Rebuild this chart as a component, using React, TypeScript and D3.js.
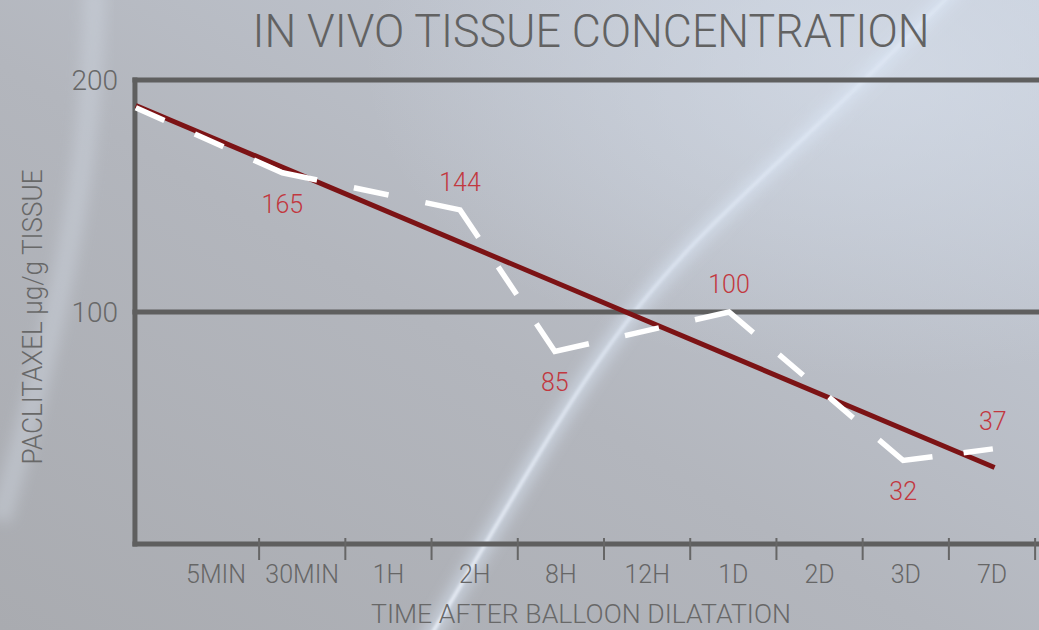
import * as d3 from "d3";

// x axis categories (time after dilatation)
const categories = ["5MIN", "30MIN", "1H", "2H", "8H", "12H", "1D", "2D", "3D", "7D"];
const yTicks = [100, 200];

// measured concentration (dashed white line), positions are in category units
const measuredPos = [-0.93, 0.77, 2.83, 3.93, 5.95, 7.97, 9.01];
const measuredVal = [188, 160, 144, 83, 100, 36, 41];
const pointLabels = ["", "165", "144", "85", "100", "32", "37"];
const labelBelow = [false, true, false, true, false, true, false];

// trend line
const trendPos = [-0.93, 9.03];
const trendVal = [189, 33];

const width = 1039;
const height = 630;
const axisPos = -0.94;

const x = d3.scaleLinear().domain([0, 9]).range([216, 992]);
const y = d3.scaleLinear().domain([0, 200]).range([544, 80]);

const font = "Roboto, 'DejaVu Sans', sans-serif";
const gray = "#626262";
const red = "#c2383f";

// dashes aligned to corners: each segment starts and ends with a dash
function cornerDashes(pts: [number, number][], dash: number, gap: number) {
  const arr: number[] = [];
  for (let k = 0; k < pts.length - 1; k++) {
    const L = Math.hypot(pts[k + 1][0] - pts[k][0], pts[k + 1][1] - pts[k][1]);
    const n = Math.max(0, Math.round((L - dash) / (dash + gap)));
    const s = L / ((n + 1) * dash + n * gap);
    const d = dash * s;
    const g = gap * s;
    if (k === 0) arr.push(d);
    else arr[arr.length - 1] += d;
    for (let j = 0; j < n; j++) arr.push(g, d);
  }
  arr.push(2000);
  return arr.map((v) => v.toFixed(2)).join(" ");
}

export default function App() {
  const pts: [number, number][] = measuredPos.map((p, i) => [x(p), y(measuredVal[i])]);
  const line = d3.line();
  const trend: [number, number][] = trendPos.map((p, i) => [x(p), y(trendVal[i])]);

  // decorative light streaks of the backdrop
  const streak = d3.line().curve(d3.curveBasis);
  const arcPts: [number, number][] = [
    [425, 645], [485, 545], [555, 425], [625, 320], [695, 240], [775, 165], [860, 85], [960, -15],
  ];
  const leftPts: [number, number][] = [
    [95, -10], [90, 120], [70, 250], [35, 400], [0, 520],
  ];

  const left = x(axisPos);

  return (
    <svg
      width={width}
      height={height}
      style={{ position: "absolute", left: 0, top: 0, display: "block" }}
      fontFamily={font}
    >
      <defs>
        <linearGradient id="bg" x1="0" y1="1" x2="1" y2="0">
          <stop offset="0" stopColor="#a9abb0" />
          <stop offset="0.45" stopColor="#b3b6bd" />
          <stop offset="1" stopColor="#c7ceda" />
        </linearGradient>
        <radialGradient id="glow" cx="0.85" cy="0.1" r="0.5">
          <stop offset="0" stopColor="#d6deea" stopOpacity="0.7" />
          <stop offset="1" stopColor="#d6deea" stopOpacity="0" />
        </radialGradient>
        <linearGradient id="arcFade" x1="0" y1="1" x2="0" y2="0">
          <stop offset="0" stopColor="#f2f7ff" stopOpacity="1" />
          <stop offset="0.55" stopColor="#e6eefa" stopOpacity="0.75" />
          <stop offset="1" stopColor="#e6eefa" stopOpacity="0.55" />
        </linearGradient>
        <filter id="blurBig" x="-20%" y="-20%" width="140%" height="140%">
          <feGaussianBlur stdDeviation="7" />
        </filter>
        <filter id="blurSmall" x="-20%" y="-20%" width="140%" height="140%">
          <feGaussianBlur stdDeviation="1.5" />
        </filter>
      </defs>

      {/* background */}
      <rect width={width} height={height} fill="url(#bg)" />
      <rect width={width} height={height} fill="url(#glow)" />
      <path d={streak(leftPts) ?? ""} fill="none" stroke="#cfd6e0" strokeWidth={22} opacity={0.45} filter="url(#blurBig)" />
      <path d={streak(arcPts) ?? ""} fill="none" stroke="#dce8f8" strokeWidth={16} opacity={0.55} filter="url(#blurBig)" />
      <path d={streak(arcPts) ?? ""} fill="none" stroke="url(#arcFade)" strokeWidth={3.5} opacity={0.85} filter="url(#blurSmall)" />

      {/* title */}
      <text x={591} y={47} textAnchor="middle" fontSize={46} fontWeight={300} fill={gray} textLength={677} lengthAdjust="spacingAndGlyphs">
        IN VIVO TISSUE CONCENTRATION
      </text>

      {/* horizontal lines */}
      {[0, ...yTicks].map((v) => (
        <line key={v} x1={left - 2.5} x2={width} y1={y(v)} y2={y(v)} stroke="#5f5f5f" strokeWidth={5} />
      ))}
      <line x1={left} x2={left} y1={y(200) - 2.5} y2={y(0) + 2.5} stroke="#5f5f5f" strokeWidth={5} />

      {/* y tick labels */}
      {yTicks.map((v) => (
        <text key={v} x={118} y={y(v) + 10} textAnchor="end" fontSize={28} fontWeight={300} fill="#686868">
          {v}
        </text>
      ))}

      {/* x ticks */}
      {categories.map((c, i) => (
        <g key={c}>
          <line x1={x(i + 0.5)} x2={x(i + 0.5)} y1={y(0) - 6} y2={y(0) + 16} stroke="#666" strokeWidth={2} />
          <text x={x(i)} y={583} textAnchor="middle" fontSize={25} fontWeight={300} fill="#666">
            {c}
          </text>
        </g>
      ))}

      {/* axis titles */}
      <text x={581} y={623} textAnchor="middle" fontSize={26} fontWeight={300} fill="#686868" textLength={420} lengthAdjust="spacingAndGlyphs">
        TIME AFTER BALLOON DILATATION
      </text>
      <text
        transform={`translate(42,317) rotate(-90)`}
        textAnchor="middle"
        fontSize={27}
        fontWeight={300}
        fill="#686868"
        textLength={295}
        lengthAdjust="spacingAndGlyphs"
      >
        PACLITAXEL µg/g TISSUE
      </text>

      {/* trend line */}
      <path d={line(trend) ?? ""} fill="none" stroke="#7c1315" strokeWidth={5} />

      {/* measured dashed line */}
      <path
        d={line(pts) ?? ""}
        fill="none"
        stroke="#ffffff"
        strokeWidth={5.5}
        strokeDasharray={cornerDashes(pts, 32, 34)}
        strokeLinejoin="miter"
      />

      {/* value labels */}
      {pts.map(([px, py], i) =>
        pointLabels[i] ? (
          <text key={i} x={px} y={labelBelow[i] ? py + 40 : py - 19} textAnchor="middle" fontSize={25} fontWeight={300} fill={red}>
            {pointLabels[i]}
          </text>
        ) : null
      )}
    </svg>
  );
}
